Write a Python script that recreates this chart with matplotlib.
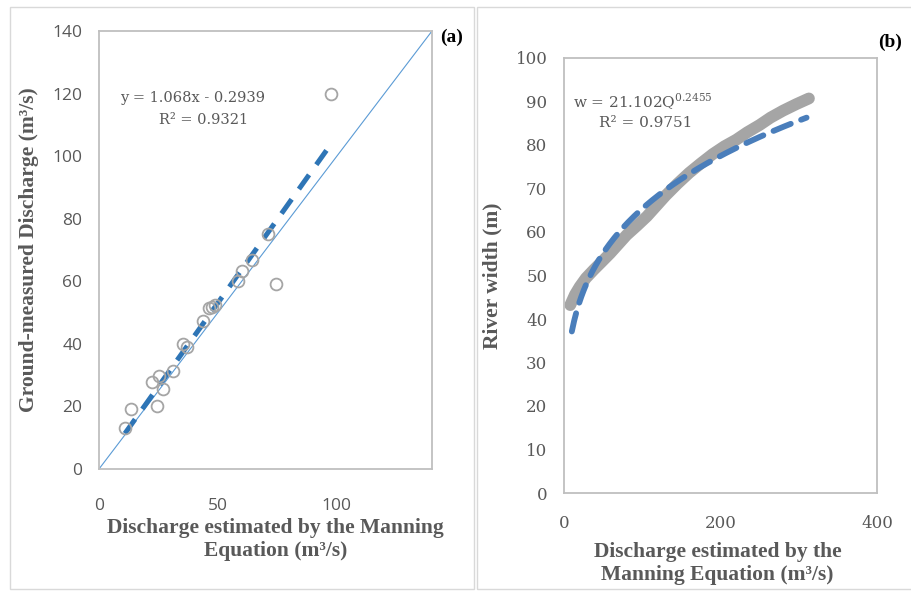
import numpy as np
import matplotlib
matplotlib.use("Agg")
import matplotlib.pyplot as plt
from matplotlib.patches import Rectangle

plt.rcParams['mathtext.fontset'] = 'custom'
plt.rcParams['mathtext.rm'] = 'DejaVu Serif'

# ---- panel (a): Manning estimate vs ground-measured discharge
q_manning = [10.9, 13.5, 22.3, 24.4, 25.2, 26.9, 31.1, 35.3, 37.0, 43.7,
             46.3, 47.5, 48.8, 58.5, 60.1, 64.3, 71.1, 74.4, 97.6]
q_ground = [13.1, 19.2, 27.8, 20.1, 29.7, 25.6, 31.3, 39.9, 39.0, 47.3,
            51.5, 51.8, 52.4, 60.1, 63.3, 66.8, 75.1, 59.1, 119.8]
lin_slope, lin_icpt = 1.068, -0.2939

# ---- panel (b): discharge vs river width
q_width = [8, 14, 20, 28, 38, 48, 59, 70, 80, 93, 106, 118, 130, 145, 160,
           175, 190, 205, 220, 234, 250, 264, 280, 297, 313]
w_river = [43.2, 45.6, 47.4, 49.4, 51.3, 53.1, 55.1, 57.3, 59.3, 61.4, 63.6, 66.0,
           68.4, 71.1, 73.6, 75.8, 77.9, 79.7, 81.2, 82.9, 84.6, 86.3, 87.9, 89.4, 90.7]
pow_a, pow_b = 21.102, 0.2455

grey = '#595959'
lab_font = dict(family='Liberation Serif', weight='bold', fontsize=15.5, color=grey)
fig = plt.figure(figsize=(9.11, 5.92), dpi=100)

# panel frames
fig.patches.append(Rectangle((10/911, 1-589/592), 464/911, 582/592, transform=fig.transFigure,
                             fill=False, ec='#D9D9D9', lw=1))
fig.patches.append(Rectangle((477/911, 1-589/592), 440/911, 582/592, transform=fig.transFigure,
                             fill=False, ec='#D9D9D9', lw=1))

ax1 = fig.add_axes([99/911, 1-469/592, 333/911, 438/592])
ax1.plot([0, 140], [0, 140], color='#5B9BD5', lw=0.8)
xs = np.array([min(q_manning), max(q_manning)])
ax1.plot(xs, lin_slope*xs + lin_icpt, color='#2E75B6', lw=3.6, ls=(0, (3.5, 2.5)))
ax1.plot(q_manning, q_ground, 'o', mfc='none', mec='#A5A5A5', mew=1.3, ms=8.5)
ax1.set_xlim(0, 140)
ax1.set_ylim(0, 140)
ax1.set_xticks([0, 50, 100])
ax1.set_yticks(range(0, 141, 20))
ax1.tick_params(length=0, colors=grey, labelsize=12.5)
ax1.tick_params(axis='y', pad=12)
ax1.tick_params(axis='x', pad=21)
for lab in ax1.get_xticklabels() + ax1.get_yticklabels():
    lab.set_family('Open Sans')
ax1.text(39.5, 118.6, 'y = 1.068x - 0.2939', ha='center', va='center', color=grey,
         family='DejaVu Serif', fontsize=10.5)
ax1.text(44, 111.5, 'R² = 0.9321', ha='center', va='center', color=grey,
         family='DejaVu Serif', fontsize=10.5)
ax1.set_xlabel('Discharge estimated by the Manning\nEquation (m³/s)', linespacing=1.2, **lab_font)
ax1.xaxis.set_label_coords(0.53, -0.113)
ax1.set_ylabel('Ground-measured Discharge (m³/s)', **lab_font)
ax1.yaxis.set_label_coords(-0.18, 0.5)
fig.text(452/911, 1-37/592, '(a)', family='Liberation Serif', weight='bold', fontsize=14,
         ha='center', va='center')

ax2 = fig.add_axes([564/911, 1-493/592, 313/911, 435/592])
ax2.plot(q_width, w_river, color='#A5A5A5', lw=8.5, solid_capstyle='round', solid_joinstyle='round')
qs = np.linspace(min(q_width) + 2, max(q_width) - 3, 200)
ax2.plot(qs, pow_a * qs**pow_b, color='#4A7EBB', lw=4.2, ls=(0, (3.2, 1.9)), dash_capstyle='round')
ax2.set_xlim(0, 400)
ax2.set_ylim(0, 100)
ax2.set_xticks([0, 200, 400])
ax2.set_yticks(range(0, 101, 10))
ax2.tick_params(length=0, colors=grey, labelsize=12)
ax2.tick_params(axis='y', pad=12)
ax2.tick_params(axis='x', pad=16)
for lab in ax2.get_xticklabels() + ax2.get_yticklabels():
    lab.set_family('DejaVu Serif')
ax2.text(12, 90, 'w = 21.102Q$^{0.2455}$', ha='left', va='center', color=grey,
         family='DejaVu Serif', fontsize=11)
ax2.text(45, 85, 'R² = 0.9751', ha='left', va='center', color=grey,
         family='DejaVu Serif', fontsize=11)
ax2.set_xlabel('Discharge estimated by the\nManning Equation (m³/s)', linespacing=1.2, **lab_font)
ax2.xaxis.set_label_coords(0.49, -0.112)
ax2.set_ylabel('River width (m)', **lab_font)
ax2.yaxis.set_label_coords(-0.195, 0.5)
fig.text(890/911, 1-42/592, '(b)', family='Liberation Serif', weight='bold', fontsize=14,
         ha='center', va='center')

for ax in (ax1, ax2):
    for sp in ax.spines.values():
        sp.set_color('#BFBFBF')
        sp.set_linewidth(1.3)

fig.savefig('out.png', dpi=100)
